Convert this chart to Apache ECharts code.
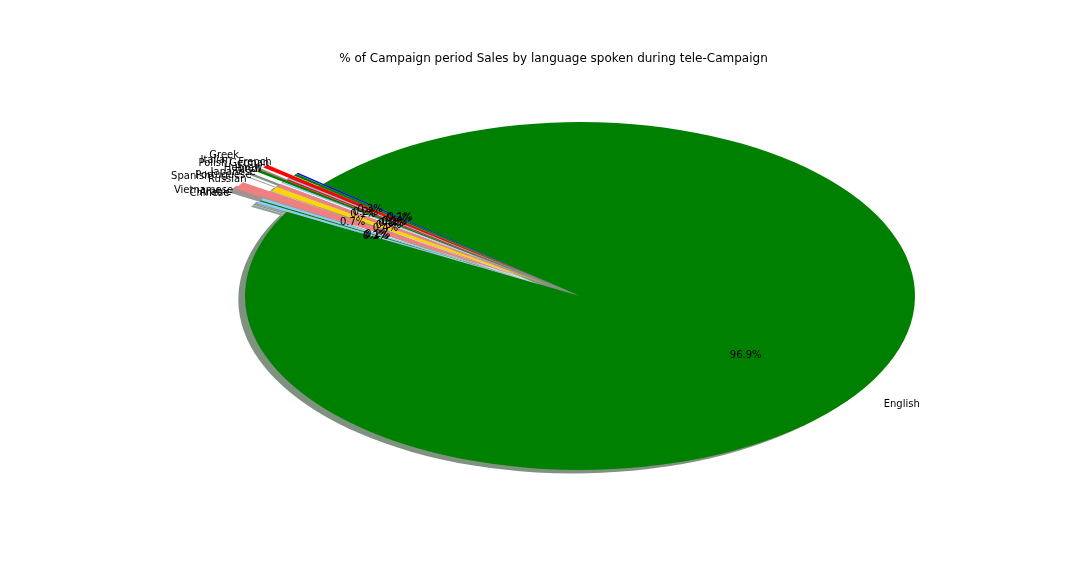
<!DOCTYPE html>
<html>
<head>
<meta charset="utf-8">
<script src="https://cdn.jsdelivr.net/npm/echarts@6/dist/echarts.min.js"></script>
<style>html,body{margin:0;padding:0;background:#fff}#chart{width:1080px;height:576px}</style>
</head>
<body>
<div id="chart"></div>
<script>
// Data (slices drawn counter-clockwise starting at startAngle, as in the original)
const languages = ['Arabic','Chinese','English','French','German','Greek','Hebrew','Hindi','Italian','Japanese','Polish','Portuguese','Russian','Spanish','Vietnamese'];
const salesPct  = [0.1, 0.2, 96.9, 0.1, 0.2, 0.3, 0.1, 0.1, 0.2, 0.1, 0.1, 0.3, 0.4, 0.7, 0.2];
const explode   = [0.1, 0.1, 0.0, 0.1, 0.1, 0.2, 0.1, 0.1, 0.2, 0.1, 0.2, 0.1, 0.1, 0.2, 0.1];
const sliceColors = ['#008000','#87cefa','#008000','#0000ff','#008000','#ff0000','#87cefa','#ff0000','#008000','#87cefa','#ffffff','#f08080','#ffd700','#f08080','#87cefa'];
const titleText = '% of Campaign period Sales by language spoken during tele-Campaign';

// Layout
const CX = 580, CY = 296, RX = 335, RY = 174;
const START = 150; // degrees, counter-clockwise
const total = salesPct.reduce((a, b) => a + b, 0);
const D2R = Math.PI / 180;

function sliceAngles(i) {
  let before = 0;
  for (let j = 0; j < i; j++) before += salesPct[j];
  const a1 = START + before / total * 360;
  const a2 = a1 + salesPct[i] / total * 360;
  return [a1, a2, (a1 + a2) / 2];
}
function hexRgb(h) {
  return [parseInt(h.slice(1,3),16), parseInt(h.slice(3,5),16), parseInt(h.slice(5,7),16)];
}
function wedge(i, dx, dy, fill) {
  const [a1, a2, mid] = sliceAngles(i);
  const e = explode[i];
  const ox = e * RX * Math.cos(mid * D2R) + dx;
  const oy = -e * RX * Math.sin(mid * D2R) + dy;
  return {
    type: 'group', x: CX, y: CY, scaleX: 1, scaleY: RY / RX,
    children: [{
      type: 'sector',
      shape: { cx: ox, cy: oy, r0: 0, r: RX, startAngle: -a2 * D2R, endAngle: -a1 * D2R, clockwise: true },
      style: { fill: fill, stroke: null, lineWidth: 0 }
    }]
  };
}

const chart = echarts.init(document.getElementById('chart'), null, { renderer: 'canvas' });
chart.setOption({
  animation: false,
  backgroundColor: '#ffffff',
  graphic: [{
    type: 'text', x: 553.5, y: 59,
    style: { text: titleText, font: '12px "DejaVu Sans"', fill: '#000', align: 'center', verticalAlign: 'middle' }
  }],
  series: [
    { // shadows
      type: 'custom', coordinateSystem: 'none', z: 1, data: salesPct,
      renderItem: function (params) {
        const i = params.dataIndex;
        const c = hexRgb(sliceColors[i]);
        const fill = 'rgba(' + Math.round(c[0]*0.3) + ',' + Math.round(c[1]*0.3) + ',' + Math.round(c[2]*0.3) + ',0.5)';
        return wedge(i, -0.02 * RX, 0.02 * RX, fill);
      }
    },
    { // wedges
      type: 'custom', coordinateSystem: 'none', z: 2, data: salesPct,
      renderItem: function (params) {
        const i = params.dataIndex;
        return wedge(i, 0, 0, sliceColors[i]);
      }
    },
    { // labels
      type: 'custom', coordinateSystem: 'none', z: 3, data: salesPct,
      renderItem: function (params) {
        const i = params.dataIndex;
        const [a1, a2, mid] = sliceAngles(i);
        const e = explode[i];
        const c = Math.cos(mid * D2R), s = Math.sin(mid * D2R);
        const lx = CX + (1.1 + e) * RX * c, ly = CY - (1.1 + e) * RY * s;
        const px = CX + (0.6 + e) * RX * c, py = CY - (0.6 + e) * RY * s;
        return {
          type: 'group',
          children: [
            { type: 'text', x: lx, y: ly,
              style: { text: languages[i], font: '10px "DejaVu Sans"', fill: '#000', align: c < 0 ? 'right' : 'left', verticalAlign: 'middle' } },
            { type: 'text', x: px, y: py,
              style: { text: (salesPct[i] / total * 100).toFixed(1) + '%', font: '10px "DejaVu Sans"', fill: '#000', align: 'center', verticalAlign: 'middle' } }
          ]
        };
      }
    }
  ]
});
</script>
</body>
</html>
